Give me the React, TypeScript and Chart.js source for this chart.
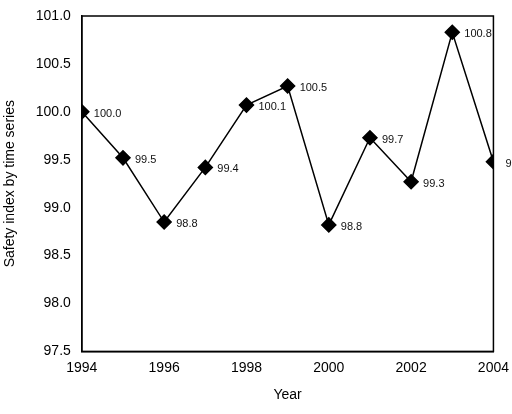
import { useEffect, useRef } from "react"
import { Chart, registerables } from "chart.js"

Chart.register(...registerables)

const years = [1994, 1995, 1996, 1997, 1998, 1999, 2000, 2001, 2002, 2003, 2004]
const safetyIndex = [100.0, 99.52, 98.85, 99.42, 100.07, 100.27, 98.82, 99.73, 99.27, 100.83, 99.48]
const pointLabels = ["100.0", "99.5", "98.8", "99.4", "100.1", "100.5", "98.8", "99.7", "99.3", "100.8", "99.5"]

const labelPlugin = {
  id: "pointLabels",
  afterDatasetsDraw(chart: Chart) {
    const ctx = chart.ctx
    const meta = chart.getDatasetMeta(0)
    ctx.save()
    ctx.font = "11px Arial, 'Liberation Sans', sans-serif"
    ctx.fillStyle = "#111"
    ctx.textBaseline = "middle"
    meta.data.forEach((pt, i) => {
      ctx.fillText(pointLabels[i], pt.x + 12, pt.y + 2)
    })
    ctx.restore()
  },
}

const font = { size: 14, family: "Arial, 'Liberation Sans', sans-serif" }

export default function App() {
  const chartRef = useRef<HTMLCanvasElement>(null)
  const chartInstance = useRef<Chart | null>(null)

  useEffect(() => {
    if (!chartRef.current) return
    if (chartInstance.current) chartInstance.current.destroy()
    const ctx = chartRef.current.getContext("2d")
    if (!ctx) return

    chartInstance.current = new Chart(ctx, {
      type: "line",
      data: {
        datasets: [
          {
            data: years.map((y, i) => ({ x: y, y: safetyIndex[i] })),
            borderColor: "#000",
            borderWidth: 1.5,
            backgroundColor: "#000",
            pointStyle: "rectRot",
            pointRadius: 7,
            pointBackgroundColor: "#000",
            tension: 0,
          },
        ],
      },
      options: {
        responsive: false,
        animation: false,
        layout: { padding: { top: 16, right: 12, left: 2, bottom: 10 } },
        plugins: { legend: { display: false }, tooltip: { enabled: false } },
        scales: {
          x: {
            type: "linear",
            min: 1994,
            max: 2004,
            border: { color: "#000", width: 1.5 },
            grid: { display: false, tickLength: 5, color: "#000" },
            ticks: {
              stepSize: 2,
              color: "#000",
              font,
              callback: (v) => String(v),
            },
            title: {
              display: true,
              text: "Year",
              color: "#000",
              font,
              padding: { top: 8, bottom: 0 },
            },
          },
          y: {
            min: 97.5,
            max: 101.0,
            border: { color: "#000", width: 1.5 },
            grid: { display: false },
            ticks: {
              stepSize: 0.5,
              color: "#000",
              font,
              callback: (v) => Number(v).toFixed(1),
            },
            title: {
              display: true,
              text: "Safety index by time series",
              color: "#000",
              font,
              padding: { top: 0, bottom: 14 },
            },
          },
        },
      },
      plugins: [
        labelPlugin,
        {
          id: "box",
          afterDraw(chart: Chart) {
            const { ctx, chartArea } = chart
            ctx.save()
            ctx.strokeStyle = "#000"
            ctx.lineWidth = 1.5
            ctx.strokeRect(chartArea.left, chartArea.top, chartArea.right - chartArea.left, chartArea.bottom - chartArea.top)
            ctx.restore()
          },
        },
      ],
    })

    return () => {
      if (chartInstance.current) chartInstance.current.destroy()
    }
  }, [])

  return (
    <div style={{ position: "fixed", left: 0, top: 0, width: 512, height: 414, background: "#fff" }}>
      <canvas ref={chartRef} width={512} height={414} />
    </div>
  )
}
